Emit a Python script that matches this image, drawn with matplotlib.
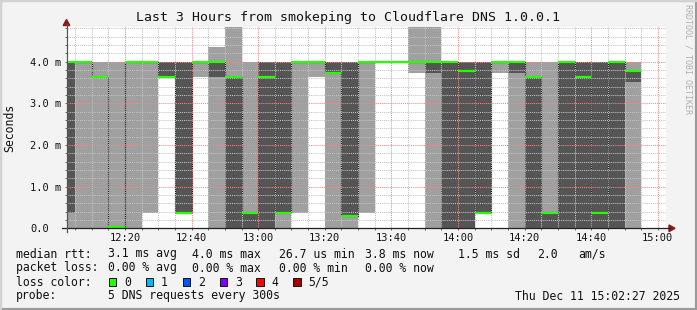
import matplotlib.pyplot as plt
from matplotlib.patches import Rectangle, Polygon
from matplotlib.lines import Line2D

plt.rcParams['font.family'] = ['DejaVu Sans Mono', 'DejaVu Sans']

W, H = 697, 310

# 5 minute bins, labelled by end time; 5 sorted DNS rtts per bin (ms)
times = ["12:05", "12:10", "12:15", "12:20", "12:25", "12:30", "12:35",
         "12:40", "12:45", "12:50", "12:55", "13:00", "13:05", "13:10",
         "13:15", "13:20", "13:25", "13:30", "13:35", "13:40", "13:45",
         "13:50", "13:55", "14:00", "14:05", "14:10", "14:15", "14:20",
         "14:25", "14:30", "14:35", "14:40", "14:45", "14:50", "14:55"]
pings = [
    [0.00, 0.37, 4.00, 4.00, 4.00],
    [0.00, 4.00, 4.00, 4.00, 4.00],
    [0.00, 3.64, 3.64, 3.64, 4.00],
    [0.00, 0.03, 0.03, 0.03, 4.00],
    [0.00, 4.00, 4.00, 4.00, 4.00],
    [0.37, 4.00, 4.00, 4.00, 4.00],
    [3.64, 3.64, 3.64, 4.00, 4.00],
    [0.37, 0.37, 0.37, 4.00, 4.00],
    [3.64, 4.00, 4.00, 4.00, 4.00],
    [0.00, 3.64, 4.00, 4.00, 4.36],
    [0.00, 0.00, 3.64, 3.64, 5.20],
    [0.00, 0.00, 0.37, 0.37, 4.00],
    [0.00, 0.00, 3.64, 4.00, 4.00],
    [0.00, 0.37, 0.37, 4.00, 4.00],
    [0.37, 4.00, 4.00, 4.00, 4.00],
    [3.64, 4.00, 4.00, 4.00, 4.00],
    [0.00, 3.72, 3.72, 4.00, 4.00],
    [0.00, 0.29, 0.29, 4.00, 4.00],
    [0.37, 4.00, 4.00, 4.00, 4.00],
    [4.00, 4.00, 4.00, 4.00, 4.00],
    [4.00, 4.00, 4.00, 4.00, 4.00],
    [3.72, 4.00, 4.00, 4.00, 5.20],
    [0.00, 3.72, 4.00, 4.00, 5.20],
    [0.00, 0.00, 4.00, 4.00, 4.00],
    [0.00, 0.00, 3.78, 4.00, 4.00],
    [0.37, 0.37, 0.37, 4.00, 4.00],
    [3.72, 4.00, 4.00, 4.00, 4.00],
    [0.00, 3.72, 4.00, 4.00, 4.00],
    [0.00, 0.00, 3.64, 3.64, 4.00],
    [0.00, 0.00, 0.37, 0.37, 4.00],
    [0.00, 0.00, 4.00, 4.00, 4.00],
    [0.00, 0.00, 3.64, 4.00, 4.00],
    [0.00, 0.00, 0.37, 4.00, 4.00],
    [0.00, 0.00, 4.00, 4.00, 4.00],
    [0.00, 3.52, 3.77, 3.77, 4.00],
]
window = ("12:02:27", "15:02:27")
xtick_labels = ["12:20", "12:40", "13:00", "13:20", "13:40",
                "14:00", "14:20", "14:40", "15:00"]
ytick_vals = [0.0, 1.0, 2.0, 3.0, 4.0]
ytick_labels = ["0.0", "1.0 m", "2.0 m", "3.0 m", "4.0 m"]
ymax = 4.83

loss_labels = ["0", "1", "2", "3", "4", "5/5"]
loss_colors = ["#26ff00", "#00b8ff", "#0059ff", "#7e00ff", "#ff0000", "#a00000"]

stats_rtt = ["3.1 ms avg", "4.0 ms max", "26.7 us min", "3.8 ms now", "1.5 ms sd", "2.0", "am/s"]
stats_loss = ["0.00 % avg", "0.00 % max", "0.00 % min", "0.00 % now"]


def mins(s):
    parts = [int(v) for v in s.split(":")]
    while len(parts) < 3:
        parts.append(0)
    return (parts[0] - 12) * 60 + parts[1] + parts[2] / 60.0


def fx(x):
    return x / W


def fy(y):
    return 1 - y / H


ends = [mins(t) for t in times]
starts = [e - 5 for e in ends]
edges = starts + [ends[-1]]

lo = [p[0] for p in pings]
q1 = [p[1] for p in pings]
med = [p[2] for p in pings]
q3 = [p[3] for p in pings]
hi = [p[4] for p in pings]

fig = plt.figure(figsize=(W / 100, H / 100), dpi=100, facecolor="#f3f3f3")

# frame of the image
fig.add_artist(Rectangle((0, 0), 1, 1, transform=fig.transFigure, fill=False,
                         edgecolor="#9a9a9a", lw=3))
fig.add_artist(Line2D([0, 0, 1], [0, 1, 1], transform=fig.transFigure,
                      color="#d2d2d2", lw=3))

x0, x1, ytop, ybot = 66.5, 666.0, 27.0, 228.3
ax = fig.add_axes([fx(x0), fy(ybot), fx(x1) - fx(x0), fy(ytop) - fy(ybot)])
ax.set_facecolor("white")

# smoke: light between min/max, dark between 2nd and 4th ping
ax.fill_between(edges, lo + [lo[-1]], hi + [hi[-1]], step="post",
                color="#a0a0a0", lw=0, zorder=1)
ax.fill_between(edges, q1 + [q1[-1]], q3 + [q3[-1]], step="post",
                color="#555555", lw=0, zorder=1.1)
ax.stairs(med, edges, baseline=None, color="#1a1a1a", lw=0.8, zorder=2)
ax.hlines(med, starts, ends, color=loss_colors[0], lw=1.6, zorder=4)

ax.set_xlim(mins(window[0]), mins(window[1]))
ax.set_ylim(0, ymax)

ax.set_xticks([mins(t) for t in xtick_labels])
ax.set_xticklabels(xtick_labels)
ax.set_xticks([mins(t) for t in times] + [mins("15:00")], minor=True)
ax.set_yticks(ytick_vals)
ax.set_yticklabels(ytick_labels)
ax.set_yticks([v / 5 for v in range(1, 25)], minor=True)

ax.set_axisbelow(False)
ax.grid(which="minor", color="#c4c4c4", ls=(0, (1, 1)), lw=0.75)
ax.grid(which="major", color="#f08a8a", ls=(0, (1, 1)), lw=0.75)

ax.tick_params(axis="x", which="both", direction="out", length=1.5, width=0.7,
               color="#666666", pad=1.8, labelsize=7.5, labelcolor="#111111")
ax.tick_params(axis="y", which="both", direction="out", length=1.5, width=0.7,
               color="#666666", pad=24.6, labelsize=7.5, labelcolor="#111111")
for lab in ax.get_yticklabels():
    lab.set_horizontalalignment("left")

for s in ax.spines.values():
    s.set_visible(False)

# axis lines with arrows
fig.add_artist(Line2D([fx(62), fx(670)], [fy(228.3), fy(228.3)],
                      transform=fig.transFigure, color="#222222", lw=0.9))
fig.add_artist(Line2D([fx(66.5), fx(66.5)], [fy(232), fy(24)],
                      transform=fig.transFigure, color="#555555", lw=0.9))
fig.add_artist(Polygon([(fx(669), fy(225)), (fx(669), fy(231.6)), (fx(675), fy(228.3))],
                       closed=True, transform=fig.transFigure, color="#8b1a1a"))
fig.add_artist(Polygon([(fx(63.2), fy(25.5)), (fx(69.8), fy(25.5)), (fx(66.5), fy(19.5))],
                       closed=True, transform=fig.transFigure, color="#8b1a1a"))

fig.text(fx(348.5), fy(18), "Last 3 Hours from smokeping to Cloudflare DNS 1.0.0.1",
         ha="center", va="center", fontsize=9.5, color="#111111")
fig.text(fx(10), fy(127.5), "Seconds", rotation=90, ha="center", va="center",
         fontsize=8.3, color="#111111")
fig.text(fx(688), fy(59), "RRDTOOL / TOBI OETIKER", rotation=270, ha="center",
         va="center", fontsize=6, color="#b0b0b0")

# legend block
fs = 8.3
col_x = [107.6, 192.4, 279, 365, 457.8, 537, 578]
rows = [254, 268, 282.3, 296]
fig.text(fx(16), fy(rows[0]), "median rtt:", va="center", fontsize=fs, color="#111111")
for txt, x in zip(stats_rtt, col_x):
    fig.text(fx(x), fy(rows[0]), txt, va="center", fontsize=fs, color="#111111")
fig.text(fx(16), fy(rows[1]), "packet loss:", va="center", fontsize=fs, color="#111111")
for txt, x in zip(stats_loss, col_x):
    fig.text(fx(x), fy(rows[1]), txt, va="center", fontsize=fs, color="#111111")

fig.text(fx(16), fy(rows[2]), "loss color:", va="center", fontsize=fs, color="#111111")
box_x = [108.7, 145.7, 182.7, 220, 256.4, 293.3]
for lab, col, bx in zip(loss_labels, loss_colors, box_x):
    fig.add_artist(Rectangle((fx(bx), fy(286)), 7.3 / W, 8 / H, transform=fig.transFigure,
                             facecolor=col, edgecolor="#111111", lw=0.7))
    fig.text(fx(bx + 15.3), fy(rows[2]), lab, va="center", fontsize=fs, color="#111111")

fig.text(fx(16), fy(rows[3]), "probe:", va="center", fontsize=fs, color="#111111")
fig.text(fx(107.6), fy(rows[3]), "5 DNS requests every 300s", va="center",
         fontsize=fs, color="#111111")
fig.text(fx(680), fy(rows[3]), "Thu Dec 11 15:02:27 2025", ha="right", va="center",
         fontsize=fs, color="#111111")

fig.savefig("out.png", dpi=100, facecolor=fig.get_facecolor())
